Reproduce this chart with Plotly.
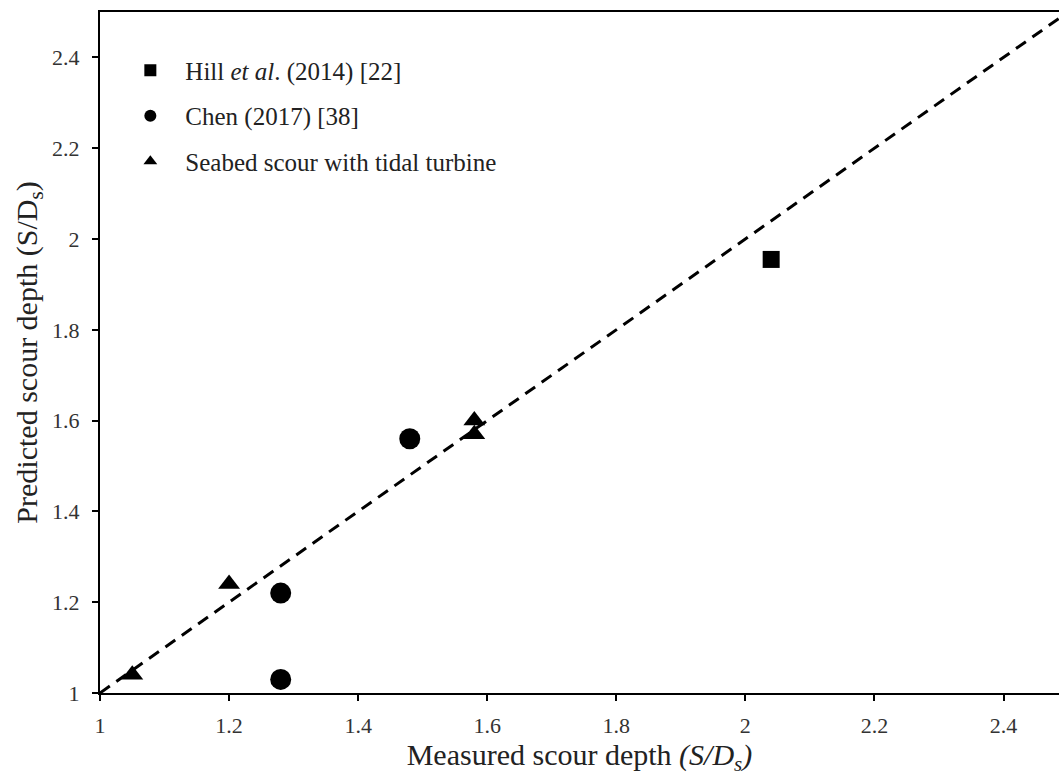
import plotly.graph_objects as go

# Measured vs. predicted normalised scour depth (S/Ds)
hill_measured = [2.04]
hill_predicted = [1.955]

chen_measured = [1.48, 1.28, 1.28]
chen_predicted = [1.56, 1.22, 1.03]

turbine_measured = [1.05, 1.20, 1.58, 1.58]
turbine_predicted = [1.04, 1.24, 1.60, 1.57]

# Line of perfect agreement
parity = [1.0, 2.5]

tick_vals = [1, 1.2, 1.4, 1.6, 1.8, 2, 2.2, 2.4]

serif = "Liberation Serif"

fig = go.Figure()

fig.add_trace(go.Scatter(
    x=parity, y=parity, mode="lines",
    line=dict(color="black", width=3, dash="12px,8px"),
    showlegend=False, hoverinfo="skip", cliponaxis=True,
))

fig.add_trace(go.Scatter(
    x=hill_measured, y=hill_predicted, mode="markers",
    name="Hill <i>et al</i>. (2014) [22]", legendgroup="a",
    marker=dict(symbol="square", size=17, color="black"),
))
fig.add_trace(go.Scatter(
    x=chen_measured, y=chen_predicted, mode="markers",
    name="Chen (2017) [38]", legendgroup="b",
    marker=dict(symbol="circle", size=21, color="black"),
))
fig.add_trace(go.Scatter(
    x=turbine_measured, y=turbine_predicted, mode="markers",
    name="Seabed scour with tidal turbine", legendgroup="c",
    marker=dict(symbol="triangle-up", size=19, color="black"),
))

fig.update_layout(
    width=1059, height=776,
    margin=dict(l=100, r=0, t=12, b=83),
    paper_bgcolor="white", plot_bgcolor="white",
    font=dict(family=serif, color="#333333", size=20),
    showlegend=True,
    legend=dict(
        x=0.016, y=0.948, xanchor="left", yanchor="top",
        font=dict(family=serif, size=25, color="#222222"),
        traceorder="grouped", tracegroupgap=10,
        itemwidth=60, itemsizing="constant", bgcolor="rgba(0,0,0,0)",
    ),
    xaxis=dict(
        range=[1, 2.486], tickvals=tick_vals,
        showline=True, linecolor="black", linewidth=2, mirror=True,
        ticks="outside", ticklen=6, tickwidth=2, tickcolor="black",
        showgrid=False, zeroline=False, ticklabelstandoff=6,
        tickfont=dict(family=serif, size=22, color="#333333"),
        title=dict(text="Measured scour depth <i>(S/D<sub>s</sub>)</i>",
                   font=dict(family=serif, size=30, color="#222222"), standoff=18),
    ),
    yaxis=dict(
        range=[1, 2.5], tickvals=tick_vals,
        showline=True, linecolor="black", linewidth=2, mirror=False,
        ticks="outside", ticklen=6, tickwidth=2, tickcolor="black",
        showgrid=False, zeroline=False, ticklabelstandoff=8,
        tickfont=dict(family=serif, size=22, color="#333333"),
        title=dict(text="Predicted scour depth (S/D<sub>s</sub>)",
                   font=dict(family=serif, size=30, color="#222222"), standoff=6),
    ),
)

fig.write_html("out.html")
